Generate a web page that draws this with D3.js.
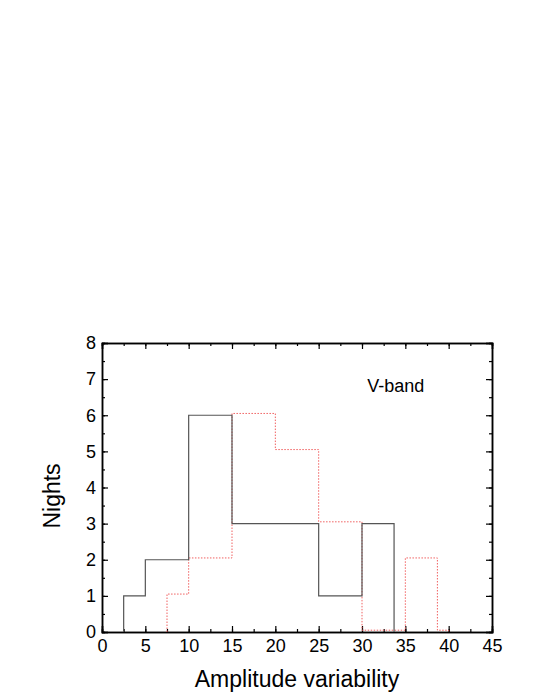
<!DOCTYPE html>
<html>
<head>
<meta charset="utf-8">
<script src="https://cdn.jsdelivr.net/npm/d3@7"></script>
<style>
  body { margin: 0; background: #fff; }
  svg text { font-family: "Liberation Sans", Arial, sans-serif; fill: #000; }
</style>
</head>
<body>
<div id="chart"></div>
<script>
// Histogram bin edges and counts
const blackEdges = [2.5, 5, 10, 15, 25, 30, 33.7];
const blackCounts = [1, 2, 6, 3, 1, 3];
const redEdges = [7.5, 10, 15, 20, 25, 30, 35, 38.7, 40];
const redCounts = [1.05, 2.05, 6.05, 5.05, 3.05, 0.05, 2.05, 0.05];

const xTicks = [0, 5, 10, 15, 20, 25, 30, 35, 40, 45];
const yTicks = [0, 1, 2, 3, 4, 5, 6, 7, 8];

const W = 540, H = 699;
const margin = { top: 343, right: 48, bottom: 67, left: 102 };
const width = W - margin.left - margin.right;
const height = H - margin.top - margin.bottom;

const svg = d3.select("#chart")
  .append("svg")
  .attr("width", W)
  .attr("height", H);

const g = svg.append("g")
  .attr("transform", `translate(${margin.left},${margin.top})`);

const x = d3.scaleLinear().domain([0, 45]).range([0, width]);
const y = d3.scaleLinear().domain([0, 8]).range([height, 0]);

// minor ticks, inward on all sides
const xMinor = d3.range(0, 45.01, 2.5);
const yMinor = d3.range(0, 8.01, 0.5);

function styleAxis(sel) {
  sel.select(".domain").attr("stroke", "#000").attr("stroke-width", 1.5);
  sel.selectAll(".tick line").attr("stroke", "#000").attr("stroke-width", 1.2);
}

// bottom
g.append("g")
  .attr("transform", `translate(0,${height})`)
  .call(d3.axisBottom(x).tickValues(xMinor).tickSize(-3).tickFormat(""))
  .call(styleAxis);
g.append("g")
  .attr("transform", `translate(0,${height})`)
  .call(d3.axisBottom(x).tickValues(xTicks).tickSize(-6).tickPadding(7).tickFormat(d3.format("d")))
  .call(styleAxis)
  .call(a => a.selectAll("text").style("font-size", "18px"));
// top
g.append("g")
  .call(d3.axisTop(x).tickValues(xMinor).tickSize(-3).tickFormat(""))
  .call(styleAxis);
g.append("g")
  .call(d3.axisTop(x).tickValues(xTicks).tickSize(-6).tickFormat(""))
  .call(styleAxis);
// left
g.append("g")
  .call(d3.axisLeft(y).tickValues(yMinor).tickSize(-3).tickFormat(""))
  .call(styleAxis);
g.append("g")
  .call(d3.axisLeft(y).tickValues(yTicks).tickSize(-6).tickPadding(6).tickFormat(d3.format("d")))
  .call(styleAxis)
  .call(a => a.selectAll("text").style("font-size", "18px"));
// right
g.append("g")
  .attr("transform", `translate(${width},0)`)
  .call(d3.axisRight(y).tickValues(yMinor).tickSize(-3).tickFormat(""))
  .call(styleAxis);
g.append("g")
  .attr("transform", `translate(${width},0)`)
  .call(d3.axisRight(y).tickValues(yTicks).tickSize(-6).tickFormat(""))
  .call(styleAxis);

// step outline of a histogram
function stepPoints(edges, counts) {
  const pts = [[edges[0], 0]];
  counts.forEach((c, i) => {
    pts.push([edges[i], c]);
    pts.push([edges[i + 1], c]);
  });
  pts.push([edges[edges.length - 1], 0]);
  return pts;
}

const line = d3.line().x(d => x(d[0])).y(d => y(d[1]));

g.append("path")
  .datum(stepPoints(redEdges, redCounts))
  .attr("d", line)
  .attr("fill", "none")
  .attr("stroke", "#f06060")
  .attr("stroke-width", 1)
  .attr("stroke-dasharray", "1.5,1.5");

g.append("path")
  .datum(stepPoints(blackEdges, blackCounts))
  .attr("d", line)
  .attr("fill", "none")
  .attr("stroke", "#555")
  .attr("stroke-width", 1.2);

// labels
g.append("text")
  .attr("x", x(30.6))
  .attr("y", y(6.65))
  .style("font-size", "18px")
  .text("V-band");

svg.append("text")
  .attr("x", margin.left + width / 2)
  .attr("y", 687)
  .attr("text-anchor", "middle")
  .style("font-size", "23px")
  .text("Amplitude variability");

svg.append("text")
  .attr("transform", `translate(60,496) rotate(-90)`)
  .attr("text-anchor", "middle")
  .style("font-size", "23px")
  .text("Nights");
</script>
</body>
</html>
